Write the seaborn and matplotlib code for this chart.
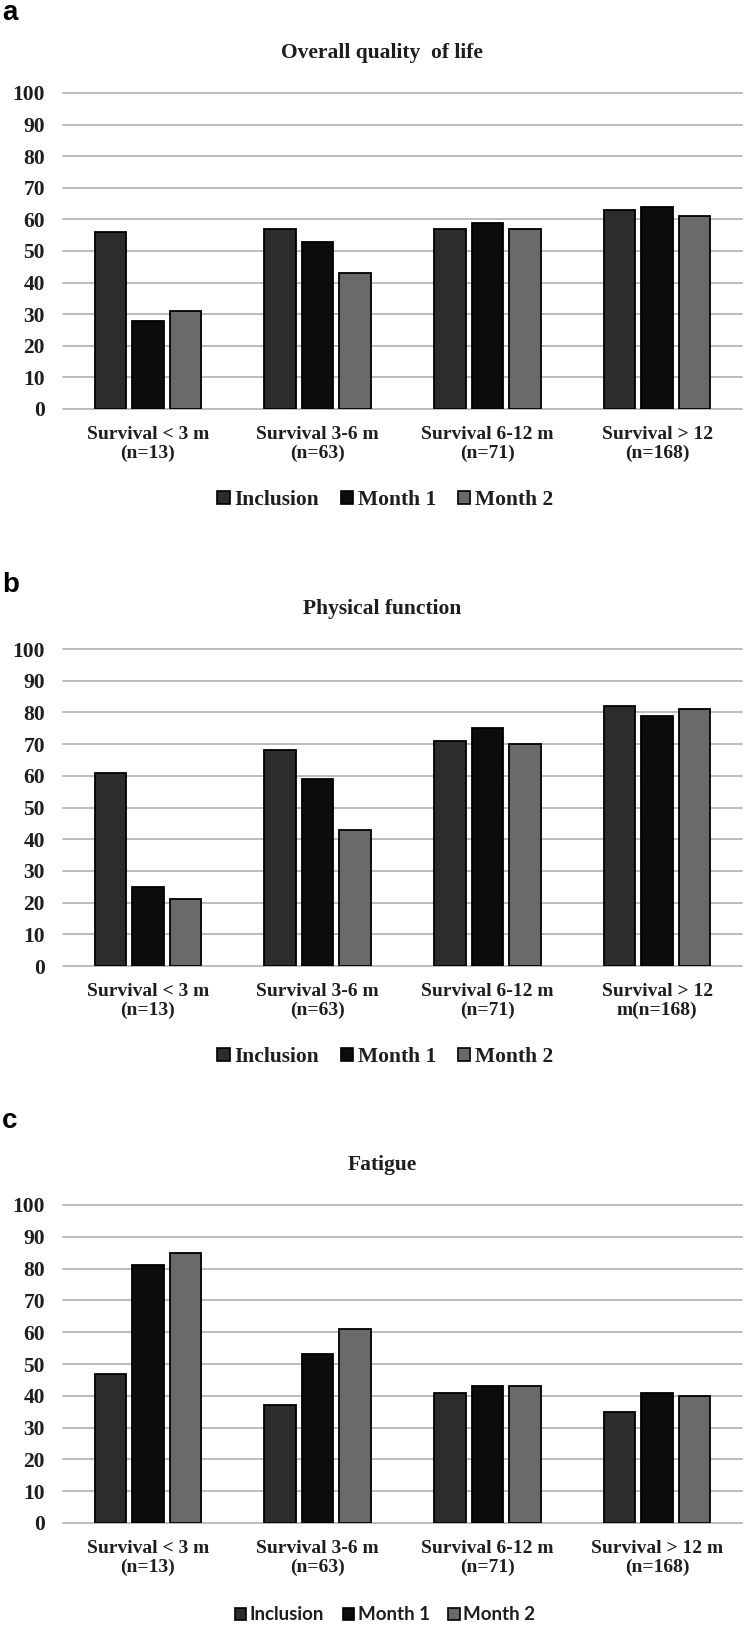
import matplotlib
matplotlib.use("Agg")
import matplotlib.pyplot as plt
import seaborn as sns
import pandas as pd
from matplotlib.patches import Patch

sns.set_theme(style="white")
plt.rcParams['font.family'] = ['Liberation Serif', 'DejaVu Serif']

# ---------------- data ----------------
timepoints = ["Inclusion", "Month 1", "Month 2"]
colors = ["#2c2c2c", "#0c0c0c", "#6a6a6a"]

labels_a = ["Survival < 3 m\n(n=13)", "Survival 3-6 m\n(n=63)",
            "Survival 6-12 m\n(n=71)", "Survival > 12\n(n=168)"]
labels_b = ["Survival < 3 m\n(n=13)", "Survival 3-6 m\n(n=63)",
            "Survival 6-12 m\n(n=71)", "Survival > 12\nm(n=168)"]
labels_c = ["Survival < 3 m\n(n=13)", "Survival 3-6 m\n(n=63)",
            "Survival 6-12 m\n(n=71)", "Survival > 12 m\n(n=168)"]

qol_inclusion = [56, 57, 57, 63]
qol_month1 = [28, 53, 59, 64]
qol_month2 = [31, 43, 57, 61]

phys_inclusion = [61, 68, 71, 82]
phys_month1 = [25, 59, 75, 79]
phys_month2 = [21, 43, 70, 81]

fat_inclusion = [47, 37, 41, 35]
fat_month1 = [81, 53, 43, 41]
fat_month2 = [85, 61, 43, 40]

titles = ["Overall quality  of life", "Physical function", "Fatigue"]
panel_letters = ["a", "b", "c"]
yticks = list(range(0, 101, 10))

# ---------------- layout ----------------
W, H = 744, 1625
fig = plt.figure(figsize=(W / 100, H / 100), dpi=100)


def rect(l, t, r, b):
    return [l / W, 1 - b / H, (r - l) / W, (b - t) / H]


panels = [
    dict(labels=labels_a, vals=[qol_inclusion, qol_month1, qol_month2],
         box=(63, 93, 742, 409), title_y=53, letter_y=20,
         legend_y=500, legend_font="serif"),
    dict(labels=labels_b, vals=[phys_inclusion, phys_month1, phys_month2],
         box=(63, 649, 742, 966), title_y=609, letter_y=592,
         legend_y=1057, legend_font="serif"),
    dict(labels=labels_c, vals=[fat_inclusion, fat_month1, fat_month2],
         box=(63, 1205, 742, 1523), title_y=1165, letter_y=1128,
         legend_y=1615, legend_font="sans"),
]

for i, p in enumerate(panels):
    rows = []
    for tp, series in zip(timepoints, p["vals"]):
        for cat, v in zip(p["labels"], series):
            rows.append({"group": cat, "time": tp, "value": v})
    df = pd.DataFrame(rows)

    ax = fig.add_axes(rect(*p["box"]))
    sns.barplot(data=df, x="group", y="value", hue="time",
                order=p["labels"], hue_order=timepoints,
                palette=dict(zip(timepoints, colors)),
                width=0.662, gap=0.16, edgecolor="black", linewidth=1.3,
                saturation=1, legend=False, ax=ax)
    ax.set_xlim(-0.5, 3.5)
    ax.set_ylim(0, 100)
    ax.set_yticks(yticks)
    ax.set_yticklabels([str(t) for t in yticks], fontsize=15.5,
                       fontweight="bold", color="#1e1e1e")
    ax.set_xticks(range(4))
    ax.set_xticklabels(p["labels"], fontsize=14, fontweight="bold",
                       color="#1e1e1e", linespacing=1.15)
    ax.set_xlabel("")
    ax.set_ylabel("")
    ax.tick_params(axis="y", length=0, pad=13)
    ax.tick_params(axis="x", length=0, pad=12)
    ax.grid(axis="y", color="#bcbcbc", linewidth=1.4)
    ax.grid(axis="x", visible=False)
    ax.set_axisbelow(True)
    for gl in ax.get_ygridlines():
        gl.set_clip_on(False)
    for s in ax.spines.values():
        s.set_visible(False)

    fig.text(382 / W, 1 - p["title_y"] / H, titles[i], ha="center",
             va="center", fontsize=15.5, fontweight="bold", color="#1e1e1e")
    fig.text(2 / W, 1 - p["letter_y"] / H, panel_letters[i], ha="left",
             va="baseline", fontsize=20, fontweight="bold",
             family="Liberation Sans", color="black")

    handles = [Patch(facecolor=c, edgecolor="black", linewidth=1.2, label=t)
               for t, c in zip(timepoints, colors)]
    if p["legend_font"] == "serif":
        prop = dict(family="Liberation Serif", weight="bold", size=15.5)
    else:
        prop = dict(family="Lato", weight="bold", size=13.5)
    fig.legend(handles=handles, loc="center", ncol=3, frameon=False,
               bbox_to_anchor=(385 / W, 1 - p["legend_y"] / H),
               prop=prop, handlelength=0.6, handleheight=0.6,
               handletextpad=0.2, columnspacing=1.0, borderaxespad=0,
               labelcolor="#1e1e1e")

fig.savefig("out.png", dpi=100, facecolor="white")
